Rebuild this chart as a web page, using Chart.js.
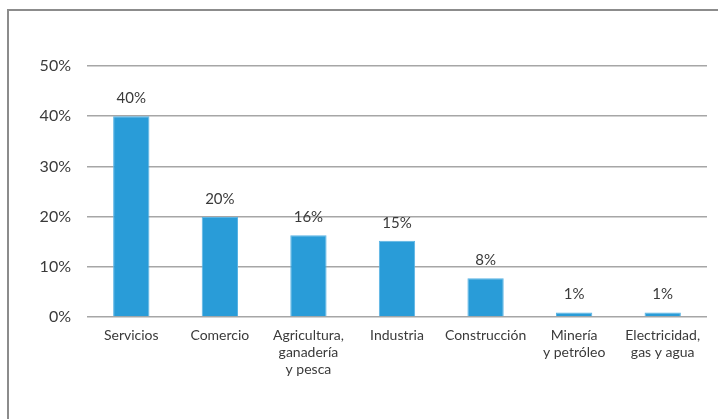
<!DOCTYPE html>
<html>
<head>
<meta charset="utf-8">
<script src="https://cdn.jsdelivr.net/npm/chart.js@4"></script>
<style>
  html, body { margin: 0; padding: 0; background: #fff; }
  #marco {
    position: absolute; left: 7px; top: 9px; width: 711px; height: 410px;
    border-left: 2px solid #8c8c8c; border-top: 2px solid #8c8c8c;
    box-sizing: border-box;
  }
  #caja { position: absolute; left: 0; top: 0; width: 718px; height: 419px; }
</style>
</head>
<body>
<div id="marco"></div>
<div id="caja"><canvas id="grafica"></canvas></div>
<script>
const categorias = [
    "Servicios",
    "Comercio",
    ["Agricultura,", "ganadería", "y pesca"],
    "Industria",
    "Construcción",
    ["Minería", "y petróleo"],
    ["Electricidad,", "gas y agua"]
];
const porcentajes = [40, 19.9, 16.3, 15.2, 7.7, 0.9, 0.9];
const marcasY = [0, 10, 20, 30, 40, 50];

const colorTexto = '#3a3a3a';
const fuente = 'Lato, "Noto Sans", sans-serif';

// etiquetas encima de cada barra
const etiquetasBarras = {
    id: 'etiquetasBarras',
    afterDatasetsDraw(chart) {
        const ctx = chart.ctx;
        const meta = chart.getDatasetMeta(0);
        ctx.save();
        ctx.fillStyle = colorTexto;
        ctx.font = '15px ' + fuente;
        ctx.textAlign = 'center';
        ctx.textBaseline = 'middle';
        meta.data.forEach((barra, i) => {
            ctx.fillText(Math.round(porcentajes[i]) + '%', barra.x, barra.y - 18);
        });
        ctx.restore();
    }
};

new Chart(document.querySelector("#grafica"), {
    type: 'bar',
    data: {
        labels: categorias,
        datasets: [{
            data: porcentajes,
            backgroundColor: '#299cd8',
            borderColor: '#5ab4e4',
            borderWidth: {top: 1, left: 1, right: 1, bottom: 0},
            categoryPercentage: 1,
            barPercentage: 0.41,
        }]
    },
    options: {
        responsive: true,
        maintainAspectRatio: false,
        animation: false,
        layout: { padding: { top: 66, right: 11, left: 0, bottom: 0 } },
        plugins: { legend: { display: false }, tooltip: { enabled: false } },
        scales: {
            x: {
                grid: { display: false },
                border: { display: false },
                ticks: {
                    color: colorTexto,
                    font: { family: fuente, size: 14 },
                    padding: 2,
                    maxRotation: 0,
                    autoSkip: false
                },
                afterFit(escala) { escala.height = 102; }
            },
            y: {
                min: 0,
                max: 50,
                afterBuildTicks(escala) {
                    escala.ticks = marcasY.map(v => ({ value: v }));
                },
                grid: { color: '#a6a6a6', lineWidth: 1.5, drawTicks: false },
                border: { display: false },
                ticks: {
                    color: colorTexto,
                    font: { family: fuente, size: 16 },
                    padding: 16,
                    callback: v => v + '%'
                },
                afterFit(escala) { escala.width = 87; }
            }
        }
    },
    plugins: [etiquetasBarras]
});
</script>
</body>
</html>
